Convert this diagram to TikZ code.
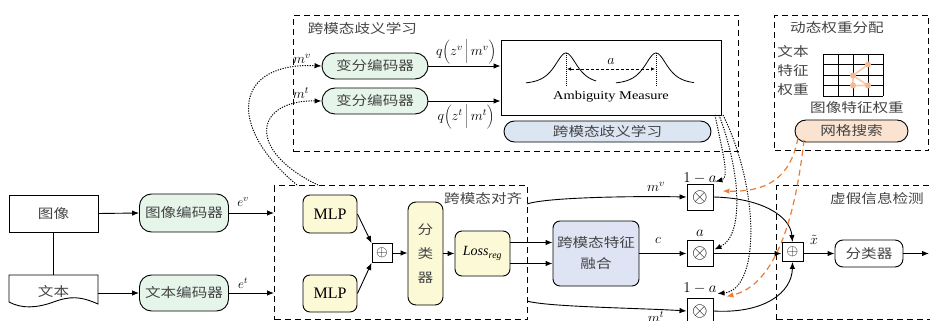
\RequirePackage{fix-cm}
\documentclass[tikz,border=0pt]{standalone}
\usepackage{fontspec}
\setmainfont{Liberation Serif}
\newfontfamily\cjk{Noto Sans CJK SC}[FakeStretch=1.2]
\newfontfamily\wideserif{Liberation Serif}[FakeStretch=1.2]
\usetikzlibrary{arrows.meta}
\definecolor{grn}{HTML}{E6F5EA}
\definecolor{ylw}{HTML}{FCF9D6}
\definecolor{blu}{HTML}{DCE5F2}
\definecolor{lav}{HTML}{DFE4F4}
\definecolor{pch}{HTML}{FBE3D2}
\definecolor{org}{HTML}{ED7D31}
\definecolor{txtc}{HTML}{444444}
\begin{document}
\begin{tikzpicture}[x=1pt,y=-1pt, line width=0.9pt,
  >={Latex[length=7pt,width=5.5pt]},
  zh/.style={font=\cjk\fontsize{13}{15}\selectfont, text=txtc},
  mth/.style={font=\fontsize{14}{16}\selectfont, inner sep=0pt},
  region/.style={draw, dash pattern=on 6pt off 4pt, line width=1pt, inner sep=0pt, anchor=north west},
  box/.style={draw, inner sep=0pt, align=center},
  encbox/.style={box, zh, fill=grn, rounded corners=12pt},
  ylwbox/.style={box, fill=ylw, rounded corners=7pt},
  opbox/.style={box, minimum width=26pt, minimum height=26pt, font=\fontsize{20}{20}\selectfont, fill=white},
  smallop/.style={box, minimum width=20pt, minimum height=19pt, font=\fontsize{15}{15}\selectfont, fill=white},
  dotline/.style={dash pattern=on 1.2pt off 1.3pt, line width=1pt, ->},
  orgline/.style={draw=org, dash pattern=on 6pt off 4pt, line width=1.2pt, ->}
]
\useasboundingbox (0,0) rectangle (930,321);

% regions
\node[region, minimum width=445pt, minimum height=136pt] (R1) at (293,15) {};
\node[region, minimum width=154pt, minimum height=135pt] (R2) at (774,15) {};
\node[region, minimum width=253pt, minimum height=134pt] (R3) at (274,185) {};
\node[region, minimum width=154pt, minimum height=134pt] (R4) at (776,185) {};

\node[zh, anchor=west] (t1) at (304,29) {跨模态歧义学习};
\node[zh] (t2) at (837,28) {动态权重分配};
\node[zh, anchor=east] (t3) at (526,199) {跨模态对齐};
\node[zh] (t4) at (877,199) {虚假信息检测};

% ambiguity learning
\node[encbox, minimum width=106pt, minimum height=26pt, rounded corners=13pt] (ve1) at (375,66) {变分编码器};
\node[encbox, minimum width=106pt, minimum height=26pt, rounded corners=13pt] (ve2) at (375,101) {变分编码器};
\node[box, fill=white, minimum width=220pt, minimum height=75pt] (amb) at (611,77.5) {};
\node[box, zh, fill=blu, minimum width=207pt, minimum height=21pt, rounded corners=10.5pt] (ambl) at (607.5,131.5) {跨模态歧义学习};
\draw[->] (ve1.east) -- (ve1.east -| amb.west);
\draw[->] (ve2.east) -- (ve2.east -| amb.west);
\node[mth, font=\fontsize{14}{17}\selectfont] (q1) at (466,52) {$q\biggl(z^{v}\,\bigg|\,m^{v}\biggr)$};
\node[mth, font=\fontsize{14}{17}\selectfont] (q2) at (466,117) {$q\biggl(z^{t}\,\bigg|\,m^{t}\biggr)$};
\node[mth] (mvl) at (302,59) {$m^{v}$};
\node[mth] (mtl) at (301,93) {$m^{t}$};

% bell curves
\draw[line width=0.8pt] plot[domain=-40:30,samples=70,smooth] ({566+\x},{84-31/cosh(\x/10)});
\draw[line width=0.8pt] plot[domain=-40:38,samples=70,smooth] ({656+\x},{84-31/cosh(\x/10)});
\draw[line width=0.7pt, dash pattern=on 1pt off 1pt] (566,53) -- (566,87);
\draw[line width=0.7pt, dash pattern=on 1pt off 1pt] (656,53) -- (656,87);
\draw[line width=0.7pt, dash pattern=on 3pt off 2pt, {Latex[length=4pt,width=3.5pt]}-{Latex[length=4pt,width=3.5pt]}] (567,69) -- (655,69);
\node[mth] (al) at (611,61) {$a$};
\node[font=\wideserif\fontsize{12}{14}\selectfont] (amt) at (611,97) {Ambiguity Measure};

% dynamic weights
\node[zh, align=center, font=\cjk\fontsize{13}{19}\selectfont] (tw) at (793,71) {文本\\特征\\权重};
\foreach \i in {0,...,4} \draw (823+15*\i,54) -- (823+15*\i,96);
\foreach \j in {0,...,4} \draw (823,54+10.5*\j) -- (883,54+10.5*\j);
\draw[org!40, line width=1.6pt] (853,85.5) -- (868,85.5) (853,85.5) -- (853,75.5) -- (868,64.5) (868,85.5) -- (853,75.5);
\foreach \p in {(868,64.5),(853,75.5),(853,85.5),(868,85.5)} \fill[org!55] \p circle (3pt);
\node[zh] (iw) at (857,108) {图像特征权重};
\node[box, zh, fill=pch, minimum width=113pt, minimum height=22pt, rounded corners=11pt] (gs) at (851.5,131) {网格搜索};

% inputs
\node[box, zh, minimum width=89pt, minimum height=37pt] (img) at (53.5,213.5) {图像};
\draw[fill=white] (9,275) -- (98,275) -- (98,304) .. controls (80,296) and (70,296) .. (53.5,302) .. controls (37,308) and (22,309) .. (9,302) -- cycle;
\node[zh, inner sep=0pt, minimum width=89pt, minimum height=36pt] (txt) at (53.5,293) {\raisebox{5pt}{文本}};
\draw (img.south) -- (txt.north);
\node[encbox, minimum width=89pt, minimum height=38pt] (ienc) at (184,213) {图像编码器};
\node[encbox, minimum width=89pt, minimum height=36pt] (tenc) at (184,293) {文本编码器};
\draw[->] (img.east) -- (ienc.west);
\draw[->] (txt.east) -- (tenc.west);
\coordinate (evin) at (274,213);
\coordinate (etin) at (274,293);
\draw[->] (ienc.east) -- (evin);
\draw[->] (tenc.east) -- (etin);
\node[mth, font=\fontsize{13}{15}\selectfont] (evl) at (243,202) {$e^{v}$};
\node[mth, font=\fontsize{13}{15}\selectfont] (etl) at (243,283) {$e^{t}$};

% alignment
\node[ylwbox, minimum width=54pt, minimum height=38pt, font=\fontsize{16}{16}\selectfont] (mlp1) at (330,214) {MLP};
\node[ylwbox, minimum width=54pt, minimum height=37pt, font=\fontsize{16}{16}\selectfont] (mlp2) at (330,293.5) {MLP};
\node[smallop] (p1) at (382,253) {$\oplus$};
\node[ylwbox, zh, minimum width=35pt, minimum height=103pt, rounded corners=8pt, font=\cjk\fontsize{13}{24}\selectfont] (cls1) at (425.5,253.5) {分\\类\\器};
\node[ylwbox, minimum width=55pt, minimum height=45pt, font=\fontsize{14}{16}\selectfont] (loss) at (482.5,253.5) {$\mathit{Loss}_{\mathit{reg}}$};
\node[box, zh, fill=lav, minimum width=86pt, minimum height=65pt, rounded corners=7pt, font=\cjk\fontsize{13}{21}\selectfont] (fuse) at (596,253.5) {跨模态特征\\融合};
\draw[->] (mlp1.east) -- (p1.north west);
\draw[->] (mlp2.east) -- (p1.south west);
\draw[->] (p1.east) -- (cls1.west |- p1.east);
\draw[->] (cls1.east |- loss.west) -- (loss.west);
\draw[->] ([yshift=11pt]loss.east) -- ([yshift=11pt]loss.east -| fuse.west);
\draw[->] ([yshift=-10pt]loss.east) -- ([yshift=-10pt]loss.east -| fuse.west);

% weighting
\node[opbox] (o1) at (700,197) {$\otimes$};
\node[opbox] (o2) at (700,253.5) {$\otimes$};
\node[opbox] (o3) at (700,311) {$\otimes$};
\node[mth, font=\fontsize{15}{16}\selectfont] (w1) at (700,178) {$1-a$};
\node[mth, font=\fontsize{15}{16}\selectfont] (w2) at (700,233) {$a$};
\node[mth, font=\fontsize{15}{16}\selectfont] (w3) at (700,288) {$1-a$};
\coordinate (mvs) at (527,204);
\coordinate (mts) at (527,301);
\draw[->] (mvs) .. controls (547,197) and (640,196) .. (o1.west);
\draw[->] (mts) .. controls (547,307) and (640,308) .. (o3.west);
\draw[->] (fuse.east |- o2.west) -- (o2.west);
\node[mth] (mvl2) at (656,187) {$m^{v}$};
\node[mth] (cl) at (658,240) {$c$};
\node[mth] (mtl2) at (656,317) {$m^{t}$};

% detection
\node[smallop, minimum width=21pt] (p2) at (792.5,252) {$\oplus$};
\node[mth] (xt) at (814,240) {$\tilde{x}$};
\node[box, zh, minimum width=68pt, minimum height=27pt, rounded corners=8pt] (cls2) at (869,253.5) {分类器};
\coordinate (outc) at (929,253.5);
\draw[->] (o1.east) .. controls (760,198) and (790,215) .. (p2.north);
\draw[->] (o2.east) -- (o2.east -| p2.west);
\draw[->] (o3.east) .. controls (765,314) and (792,292) .. (p2.south);
\draw[->] (p2.east |- cls2.west) -- (cls2.west);
\draw[->] (cls2.east) -- (outc);

% dotted feedback lines
\coordinate (d1) at (297,185);
\coordinate (d2) at (318,185);
\draw[dotline] (d1) .. controls (225,125) and (235,62) .. (ve1.west);
\draw[dotline] (d2) .. controls (245,150) and (255,100) .. (ve2.west);
\coordinate (a1) at (715,115);
\coordinate (a2) at (719,115);
\coordinate (a3) at (723,115);
\draw[dotline] (a1) .. controls (722,150) and (730,178) .. ([shift={(2,-2)}]o1.north east);
\draw[dotline] (a2) .. controls (740,170) and (745,235) .. ([shift={(1,-4)}]o2.east);
\draw[dotline] (a3) .. controls (760,190) and (760,290) .. ([shift={(4,-4)}]o3.north east);

% orange dashed
\coordinate (g1) at (798,138);
\coordinate (g2) at (804,140);
\draw[orgline] (g1) .. controls (790,180) and (765,192) .. ([shift={(9,-6)}]o1.east);
\draw[orgline] (g2) .. controls (795,220) and (775,285) .. ([shift={(13,-1)}]o3.north east);
\end{tikzpicture}
\end{document}
